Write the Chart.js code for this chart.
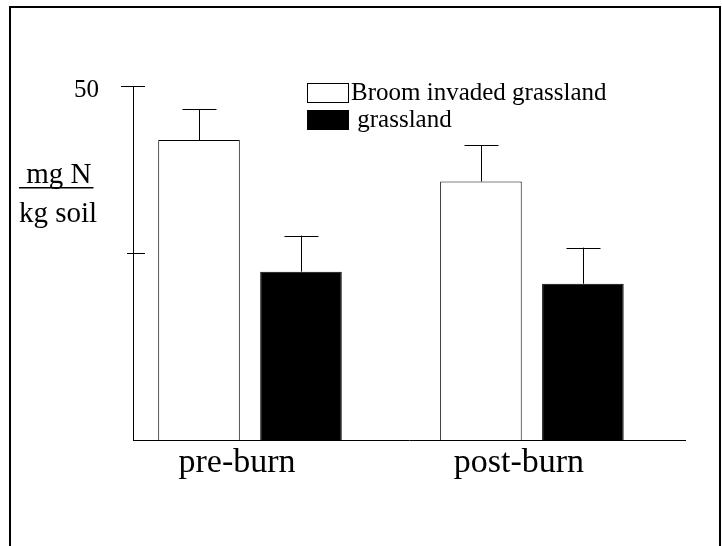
<!DOCTYPE html>
<html>
<head>
<meta charset="utf-8">
<script src="https://cdn.jsdelivr.net/npm/chart.js@4/dist/chart.umd.min.js"></script>
<style>
  body { margin: 0; background: #fff; }
  #wrap { position: relative; width: 722px; height: 546px; overflow: hidden; background: #fff; }
  #frame { position: absolute; left: 9px; top: 6px; width: 712px; height: 600px; box-sizing: border-box;
           border-top: 2px solid #000; border-left: 2px solid #000; border-right: 2px solid #000; }
  canvas { position: absolute; left: 0; top: 0; }
</style>
</head>
<body>
<div id="wrap">
  <canvas id="chart" width="722" height="546"></canvas>
  <div id="frame"></div>
</div>
<script>
const categories = ['pre-burn', 'post-burn'];
const broomValues = [41.9, 35.7];
const broomErrors = [4.6, 5.4];
const grassValues = [22.2, 20.4];
const grassErrors = [5.4, 5.4];
const yTickValues = [25, 50];
const yTickLabels = ['', '50'];
const yTitleTop = ' mg N';
const yTitleBottom = 'kg soil';

const serif = '"Liberation Serif", "Times New Roman", serif';

// x runs as a linear scale so the two groups sit where the original put them
const xMin = 0.585;
const xMax = 2.543;

function toPoints(values) {
    return values.map((v, i) => ({ x: i + 1, y: v }));
}

const extras = {
    id: 'extras',
    afterDatasetsDraw(chart) {
        const ctx = chart.ctx;
        const yScale = chart.scales.y;
        ctx.save();
        ctx.strokeStyle = '#000';
        ctx.lineWidth = 1;
        chart.data.datasets.forEach((ds, di) => {
            const meta = chart.getDatasetMeta(di);
            meta.data.forEach((bar, i) => {
                const top = yScale.getPixelForValue(ds.data[i].y + ds.errors[i]);
                const x = Math.round(bar.x) + 0.5;
                ctx.beginPath();
                ctx.moveTo(x, bar.y);
                ctx.lineTo(x, top);
                ctx.moveTo(x - 17, Math.round(top) + 0.5);
                ctx.lineTo(x + 17, Math.round(top) + 0.5);
                ctx.stroke();
            });
        });
        ctx.restore();
    },
    afterDraw(chart) {
        const ctx = chart.ctx;
        const yScale = chart.scales.y;
        const axisX = chart.chartArea.left;
        ctx.save();
        ctx.strokeStyle = '#000';
        ctx.lineWidth = 1;

        // y tick marks crossing the axis
        yScale.ticks.forEach((t, i) => {
            const y = Math.round(yScale.getPixelForValue(t.value)) + 0.5;
            const left = i === yScale.ticks.length - 1 ? 12 : 6;
            ctx.beginPath();
            ctx.moveTo(axisX - left, y);
            ctx.lineTo(axisX + 12, y);
            ctx.stroke();
        });

        // legend
        ctx.font = '25px ' + serif;
        ctx.textBaseline = 'middle';
        ctx.fillStyle = '#000';
        chart.data.datasets.forEach((ds, i) => {
            const top = 83 + i * 27;
            ctx.fillStyle = ds.backgroundColor;
            ctx.fillRect(307, top, 41, 19);
            ctx.strokeStyle = '#000';
            ctx.strokeRect(307.5, top + 0.5, 41, 19);
            ctx.fillStyle = '#000';
            ctx.fillText(ds.label, 351, top + 10);
        });

        // y title
        ctx.font = '29px ' + serif;
        ctx.textBaseline = 'alphabetic';
        ctx.fillText(yTitleTop, 19, 183);
        const w = ctx.measureText(yTitleTop).width;
        ctx.fillRect(19, 187, w + 2, 1.5);
        ctx.fillText(yTitleBottom, 19, 222);
        ctx.restore();
    }
};

new Chart(document.getElementById('chart').getContext('2d'), {
    type: 'bar',
    data: {
        datasets: [
            {
                label: 'Broom invaded grassland',
                data: toPoints(broomValues),
                errors: broomErrors,
                backgroundColor: '#ffffff',
                borderColor: '#000',
                borderWidth: 1,
                base: -3,
            },
            {
                label: ' grassland',
                data: toPoints(grassValues),
                errors: grassErrors,
                backgroundColor: '#000000',
                borderColor: '#000',
                borderWidth: 1,
                base: -3,
            },
        ],
    },
    options: {
        responsive: false,
        animation: false,
        categoryPercentage: 0.7234,
        barPercentage: 0.8,
        layout: { padding: { left: 0, top: 86, right: 37, bottom: 0 } },
        plugins: { legend: { display: false }, tooltip: { enabled: false } },
        scales: {
            x: {
                type: 'linear',
                min: xMin,
                max: xMax,
                offset: false,
                grid: { display: false, drawTicks: false },
                border: { display: true, color: '#000', width: 1 },
                afterBuildTicks: (scale) => {
                    scale.ticks = categories.map((c, i) => ({ value: i + 1 }));
                },
                afterFit: (scale) => { scale.height = 106; },
                ticks: {
                    color: '#000',
                    font: { family: serif, size: 34 },
                    padding: 3,
                    labelOffset: -13,
                    maxRotation: 0,
                    autoSkip: false,
                    callback: (value) => categories[value - 1],
                },
            },
            y: {
                min: -3,
                max: 50,
                grid: { display: false, drawTicks: false },
                border: { display: true, color: '#000', width: 1 },
                afterBuildTicks: (scale) => {
                    scale.ticks = yTickValues.map(v => ({ value: v }));
                },
                afterFit: (scale) => { scale.width = 133; },
                ticks: {
                    color: '#000',
                    font: { family: serif, size: 25 },
                    padding: 34,
                    labelOffset: 4,
                    callback: (value, index) => yTickLabels[index],
                },
            },
        },
    },
    plugins: [extras],
});
</script>
</body>
</html>
